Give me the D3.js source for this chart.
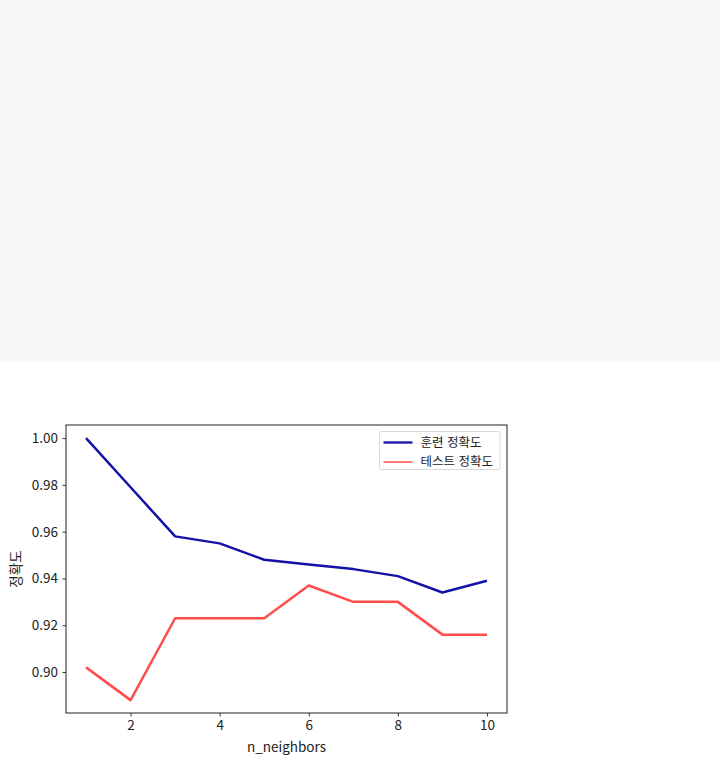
<!DOCTYPE html>
<html lang="ko">
<head>
    <meta charset="utf-8">
    <title>n_neighbors 정확도</title>
    <script src="https://d3js.org/d3.v7.min.js"></script>
    <style>
        body {
            margin: 0;
            background: #fff;
        }

        text {
            font-family: "Noto Sans CJK KR", "Noto Sans", sans-serif;
            fill: #222;
        }
    </style>
</head>
<body>
    <div id="chart"></div>
    <script>
        const w = 720;
        const h = 764;

        // n_neighbors 1..10
        const neighbors = [1, 2, 3, 4, 5, 6, 7, 8, 9, 10];
        const trainAcc = [1.000, 0.979, 0.958, 0.955, 0.948, 0.946, 0.944, 0.941, 0.934, 0.939];
        const testAcc = [0.902, 0.888, 0.923, 0.923, 0.923, 0.937, 0.930, 0.930, 0.916, 0.916];
        const xTicks = [2, 4, 6, 8, 10];
        const yTicks = [0.90, 0.92, 0.94, 0.96, 0.98, 1.00];
        const labels = ["훈련 정확도", "테스트 정확도"];

        const plot = { left: 66, right: 507, top: 425, bottom: 713 };

        const svg = d3.select("#chart")
            .append("svg")
            .attr("width", w)
            .attr("height", h);

        // grey band on top of the page
        svg.append("rect")
            .attr("x", 0)
            .attr("y", 0)
            .attr("width", w)
            .attr("height", 362)
            .attr("fill", "#f7f7f7");

        const xScale = d3.scaleLinear()
            .domain([0.55, 10.45])
            .range([plot.left, plot.right]);

        const yScale = d3.scaleLinear()
            .domain([0.8825, 1.0056])
            .range([plot.bottom, plot.top]);

        const series = [
            { name: labels[0], values: trainAcc, color: "#1212a6", width: 2.5, legendWidth: 2.3 },
            { name: labels[1], values: testAcc, color: "#ff4d4d", width: 2.5, legendWidth: 1.5 }
        ];

        const line = d3.line()
            .x(d => xScale(d[0]))
            .y(d => yScale(d[1]));

        svg.selectAll("path.series")
            .data(series)
            .enter()
            .append("path")
            .attr("class", "series")
            .attr("fill", "none")
            .attr("stroke", d => d.color)
            .attr("stroke-width", d => d.width)
            .attr("stroke-linejoin", "round")
            .attr("d", d => line(neighbors.map((n, i) => [n, d.values[i]])));

        // axes
        const xAxis = d3.axisBottom(xScale)
            .tickValues(xTicks)
            .tickSize(3.5)
            .tickPadding(4)
            .tickFormat(d3.format("d"));

        const yAxis = d3.axisLeft(yScale)
            .tickValues(yTicks)
            .tickSize(3.5)
            .tickPadding(4.5)
            .tickFormat(d3.format(".2f"));

        const gx = svg.append("g")
            .attr("transform", `translate(0, ${plot.bottom})`)
            .call(xAxis);

        const gy = svg.append("g")
            .attr("transform", `translate(${plot.left}, 0)`)
            .call(yAxis);

        [gx, gy].forEach(g => {
            g.select(".domain").remove();
            g.selectAll(".tick line").attr("stroke", "#222").attr("stroke-width", 0.9);
            g.selectAll(".tick text")
                .attr("font-size", 13.5)
                .style("font-family", "'Noto Sans CJK KR', sans-serif")
                .attr("fill", "#222");
        });

        // frame
        svg.append("rect")
            .attr("x", plot.left)
            .attr("y", plot.top)
            .attr("width", plot.right - plot.left)
            .attr("height", plot.bottom - plot.top)
            .attr("fill", "none")
            .attr("stroke", "#222")
            .attr("stroke-width", 1);

        // axis labels
        svg.append("text")
            .attr("x", (plot.left + plot.right) / 2)
            .attr("y", 752)
            .attr("text-anchor", "middle")
            .attr("font-size", 13.5)
            .text("n_neighbors");

        svg.append("text")
            .attr("transform", `translate(21, ${(plot.top + plot.bottom) / 2}) rotate(-90)`)
            .attr("text-anchor", "middle")
            .attr("font-size", 13.5)
            .text("정확도");

        // legend
        const legend = svg.append("g")
            .attr("transform", "translate(379.5, 431.5)");

        legend.append("rect")
            .attr("width", 120.5)
            .attr("height", 38)
            .attr("rx", 2)
            .attr("fill", "#fff")
            .attr("stroke", "#d8d8d8")
            .attr("stroke-width", 1);

        const items = legend.selectAll("g.item")
            .data(series)
            .enter()
            .append("g")
            .attr("class", "item")
            .attr("transform", (d, i) => `translate(0, ${11 + i * 19.5})`);

        items.append("line")
            .attr("x1", 4)
            .attr("x2", 33)
            .attr("stroke", d => d.color)
            .attr("stroke-width", d => d.legendWidth);

        items.append("text")
            .attr("x", 41)
            .attr("dy", "0.35em")
            .attr("font-size", 12.5)
            .text(d => d.name);
    </script>
</body>
</html>
